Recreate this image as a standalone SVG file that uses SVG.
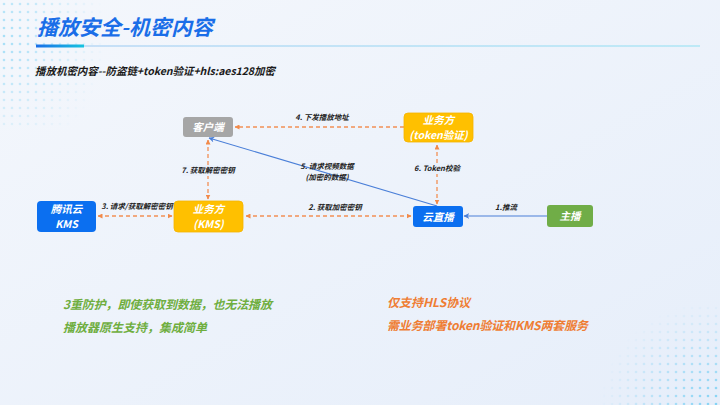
<svg xmlns="http://www.w3.org/2000/svg" width="720" height="405" viewBox="0 0 720 405">
<defs>
<linearGradient id="bg" x1="0" y1="0" x2="1" y2="1">
<stop offset="0" stop-color="#f4f7fc"/>
<stop offset="1" stop-color="#e6eefa"/>
</linearGradient>
<linearGradient id="uline" x1="0" y1="0" x2="1" y2="0">
<stop offset="0" stop-color="#9cc7f2"/>
<stop offset="1" stop-color="#8fe0f2"/>
</linearGradient>
<linearGradient id="ubar" x1="0" y1="0" x2="1" y2="0">
<stop offset="0" stop-color="#1a6ee8"/>
<stop offset="1" stop-color="#16c4e0"/>
</linearGradient>
<pattern id="dots" width="8" height="8" patternUnits="userSpaceOnUse">
<circle cx="4" cy="4" r="1.3" fill="#55c6f2"/>
</pattern>
<radialGradient id="fadeTL" cx="0" cy="0.3" r="0.9">
<stop offset="0" stop-color="#fff" stop-opacity="0.5"/>
<stop offset="1" stop-color="#fff" stop-opacity="0"/>
</radialGradient>
<radialGradient id="fadeBR" cx="1" cy="1" r="1">
<stop offset="0" stop-color="#fff" stop-opacity="0.7"/>
<stop offset="1" stop-color="#fff" stop-opacity="0"/>
</radialGradient>
<mask id="mTL"><rect x="0" y="0" width="120" height="130" fill="url(#fadeTL)"/></mask>
<mask id="mBR"><rect x="600" y="300" width="120" height="105" fill="url(#fadeBR)"/></mask>
<marker id="ao" viewBox="0 0 10 10" refX="9" refY="5" markerWidth="5" markerHeight="5" orient="auto-start-reverse" markerUnits="userSpaceOnUse">
<path d="M0,0 L10,5 L0,10 z" fill="#f28a4a"/>
</marker>
<marker id="ab" viewBox="0 0 10 10" refX="9" refY="5" markerWidth="6" markerHeight="6" orient="auto" markerUnits="userSpaceOnUse">
<path d="M0,0 L10,5 L0,10 L3,5 z" fill="#4a7fd8"/>
</marker>
<style>
text{font-family:"Noto Sans CJK SC","Noto Sans",sans-serif;font-style:italic;font-weight:bold}
.ntext{fill:#fff;font-size:10.5px;text-anchor:middle}
.lbl{fill:#222;font-size:7.5px;text-anchor:middle}
.dash{stroke:#f29055;stroke-width:1.3;stroke-dasharray:4 3;fill:none}
.solid{stroke:#4a7fd8;stroke-width:1.1;fill:none}
.green{fill:#6fae3f;font-size:12px}
.orange{fill:#ef7d33;font-size:12px}
</style>
</defs>
<rect width="720" height="405" fill="url(#bg)"/>
<rect x="0" y="0" width="120" height="130" fill="url(#dots)" mask="url(#mTL)"/>
<rect x="600" y="300" width="120" height="105" fill="url(#dots)" mask="url(#mBR)"/>

<text x="37" y="35" font-size="21" fill="#1a6ee8" textLength="176">播放安全-机密内容</text>
<rect x="36" y="45.5" width="664" height="1" fill="url(#uline)"/>
<rect x="36" y="44.5" width="48" height="3" fill="url(#ubar)"/>
<text x="35" y="75" font-size="10.5" fill="#1a1a1a" textLength="240">播放机密内容--防盗链+token验证+hls:aes128加密</text>

<g id="connectors">
<line class="dash" x1="404" y1="127" x2="235" y2="127" marker-end="url(#ao)"/>
<line class="dash" x1="437" y1="145" x2="437" y2="204" marker-start="url(#ao)" marker-end="url(#ao)"/>
<line class="dash" x1="208" y1="140" x2="208" y2="199" marker-start="url(#ao)" marker-end="url(#ao)"/>
<line class="solid" x1="437" y1="206" x2="209" y2="138" marker-end="url(#ab)"/>
<line class="dash" x1="246" y1="216" x2="411" y2="216" marker-start="url(#ao)" marker-end="url(#ao)"/>
<line class="dash" x1="98" y1="216" x2="172" y2="216" marker-start="url(#ao)" marker-end="url(#ao)"/>
<line class="solid" x1="547" y1="216" x2="464" y2="216" marker-end="url(#ab)"/>
<text class="lbl" x="322" y="120">4. 下发播放地址</text>
<rect x="416" y="163" width="42" height="11" fill="#eaf1fb"/>
<text class="lbl" x="437" y="171">6. Token校验</text>
<rect x="182" y="165" width="52" height="11" fill="#ebf1fb"/>
<text class="lbl" x="208" y="173">7. 获取解密密钥</text>
<text class="lbl" x="327" y="168.5">5. 请求视频数据</text>
<text class="lbl" x="327" y="179.5">(加密的数据)</text>
<text class="lbl" x="335" y="210">2. 获取加密密钥</text>
<text class="lbl" x="137" y="209">3. 请求/获取解密密钥</text>
<text class="lbl" x="506" y="210">1.推流</text>
</g>

<g id="client">
<rect x="183" y="117" width="50" height="20" rx="3" fill="#a6a6a6"/>
<text class="ntext" x="208" y="131" font-size="10">客户端</text>
</g>
<g id="biz-token">
<rect x="404" y="113" width="69" height="29" rx="4" fill="#ffc000" stroke="#f5b400" stroke-width="0.8"/>
<text class="ntext" x="438.5" y="124">业务方</text>
<text class="ntext" x="438.5" y="138.5">(token验证)</text>
</g>
<g id="tencent-kms">
<rect x="37" y="201" width="59" height="31" rx="4" fill="#0b6ff0"/>
<text class="ntext" x="66.5" y="213">腾讯云</text>
<text class="ntext" x="66.5" y="227.5">KMS</text>
</g>
<g id="biz-kms">
<rect x="174" y="201" width="69" height="31" rx="4" fill="#ffc000" stroke="#f5b400" stroke-width="0.8"/>
<text class="ntext" x="208.5" y="213">业务方</text>
<text class="ntext" x="208.5" y="227.5">(KMS)</text>
</g>
<g id="cloud-live">
<rect x="413" y="206" width="50" height="21" rx="3" fill="#0b6ff0"/>
<text class="ntext" x="438" y="220.5">云直播</text>
</g>
<g id="anchor">
<rect x="547" y="205" width="46" height="22" rx="3" fill="#70ad47"/>
<text class="ntext" x="570" y="220">主播</text>
</g>

<text class="green" x="63" y="309" textLength="209">3重防护，即使获取到数据，也无法播放</text>
<text class="green" x="63" y="332">播放器原生支持，集成简单</text>
<text class="orange" x="387" y="307">仅支持HLS协议</text>
<text class="orange" x="387" y="330" textLength="201">需业务部署token验证和KMS两套服务</text>
</svg>
